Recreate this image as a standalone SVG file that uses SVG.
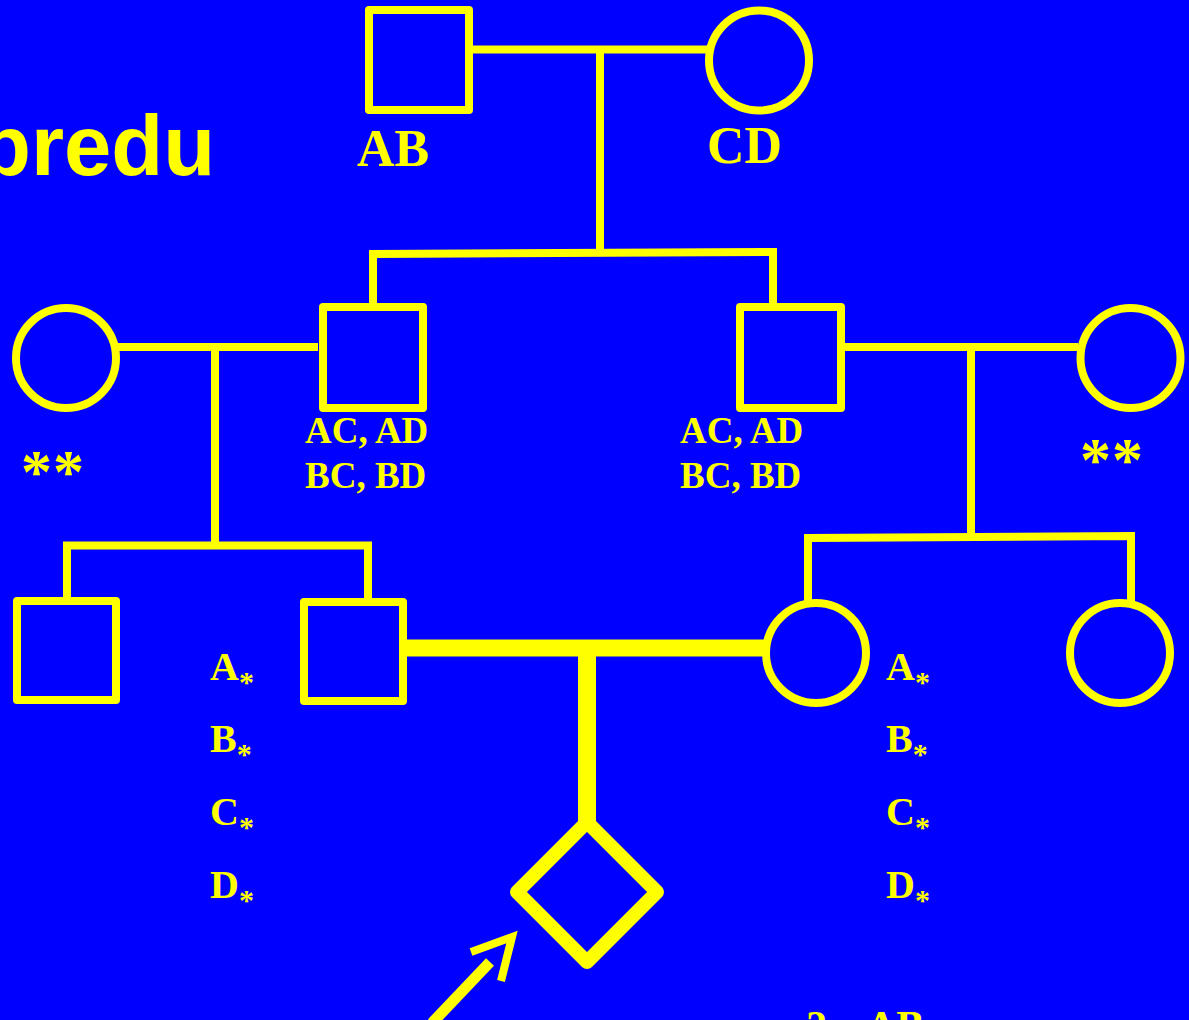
<svg xmlns="http://www.w3.org/2000/svg" width="1189" height="1020" viewBox="0 0 1189 1020">
<style>
.sym{fill:none;stroke:#FFFF00;stroke-width:8;stroke-linejoin:round}
.ln{fill:none;stroke:#FFFF00;stroke-width:8}
.thick{fill:none;stroke:#FFFF00;stroke-width:17}
.diam{fill:none;stroke:#FFFF00;stroke-width:14;stroke-linejoin:round}
.shaft{fill:none;stroke:#FFFF00;stroke-width:11}
.head{fill:none;stroke:#FFFF00;stroke-width:8;stroke-linejoin:miter;stroke-miterlimit:10}
.lbl{fill:#FFFF00;font-family:"Liberation Serif","Times New Roman",serif;font-weight:bold}
.ttl{fill:#FFFF00;font-family:"Liberation Sans",Arial,sans-serif;font-weight:bold}
.sub{font-size:30px}
.stars{font-size:62px;letter-spacing:1px}
</style>
<rect width="1189" height="1020" fill="#0000FF"/>
<text class="ttl" x="-21" y="175" font-size="85">predu</text>
<g id="connectors">
<line class="ln" x1="471" y1="49.5" x2="707" y2="49.5"/>
<line class="ln" x1="600" y1="49.5" x2="600" y2="253"/>
<polyline class="ln" points="373,307 373,254 773,252 773,307"/>
<line class="ln" x1="118" y1="347" x2="318" y2="347"/>
<line class="ln" x1="215" y1="347" x2="215" y2="545"/>
<polyline class="ln" points="67,599 67,545.5 368,545.5 368,600"/>
<line class="ln" x1="845" y1="347" x2="1078" y2="347"/>
<line class="ln" x1="971" y1="347" x2="971" y2="537"/>
<polyline class="ln" points="808,601 808,538 1131,536 1131,601"/>
<line class="thick" x1="407" y1="648" x2="764" y2="648"/>
<line class="thick" x1="587" y1="648" x2="587" y2="824" style="stroke-width:18"/>
</g>
<g id="gf-male">
<rect class="sym" x="369" y="10" width="100" height="100"/>
<text class="lbl" x="357" y="166" font-size="52">AB</text>
</g>
<g id="gf-female">
<circle class="sym" cx="759" cy="60.5" r="50"/>
<text class="lbl" x="707" y="163" font-size="52">CD</text>
</g>
<g id="left-spouse">
<circle class="sym" cx="66" cy="358" r="50"/>
<text class="lbl stars" x="21" y="492">**</text>
</g>
<g id="left-son">
<rect class="sym" x="323" y="307" width="100" height="101"/>
<text class="lbl" x="305" y="443" font-size="37">AC, AD</text>
<text class="lbl" x="305" y="488" font-size="37">BC, BD</text>
</g>
<g id="right-son">
<rect class="sym" x="740" y="307" width="101" height="101"/>
<text class="lbl" x="680" y="443" font-size="37">AC, AD</text>
<text class="lbl" x="680" y="488" font-size="37">BC, BD</text>
</g>
<g id="right-spouse">
<circle class="sym" cx="1130.5" cy="358" r="50"/>
<text class="lbl stars" x="1080" y="480">**</text>
</g>
<g id="cousin-male">
<rect class="sym" x="17" y="601" width="99" height="99"/>
</g>
<g id="father">
<rect class="sym" x="304" y="602" width="99" height="99"/>
<text class="lbl" x="210" y="680" font-size="40">A<tspan class="sub" dy="12">*</tspan></text>
<text class="lbl" x="210" y="752" font-size="40">B<tspan class="sub" dy="12">*</tspan></text>
<text class="lbl" x="210" y="825" font-size="40">C<tspan class="sub" dy="12">*</tspan></text>
<text class="lbl" x="210" y="898" font-size="40">D<tspan class="sub" dy="12">*</tspan></text>
</g>
<g id="mother">
<circle class="sym" cx="816" cy="653" r="50"/>
<text class="lbl" x="886" y="680" font-size="40">A<tspan class="sub" dy="12">*</tspan></text>
<text class="lbl" x="886" y="752" font-size="40">B<tspan class="sub" dy="12">*</tspan></text>
<text class="lbl" x="886" y="825" font-size="40">C<tspan class="sub" dy="12">*</tspan></text>
<text class="lbl" x="886" y="898" font-size="40">D<tspan class="sub" dy="12">*</tspan></text>
</g>
<g id="cousin-female">
<circle class="sym" cx="1120" cy="653" r="50"/>
</g>
<g id="proband">
<polygon class="diam" points="587,822 657,892 587,962 517,892"/>
<line class="shaft" x1="432" y1="1023" x2="490" y2="962"/>
<polyline class="head" points="471,952 512,937 501,981"/>
</g>
<text class="lbl" x="806" y="1040" font-size="42">2.<tspan x="866">AB</tspan></text>
</svg>
